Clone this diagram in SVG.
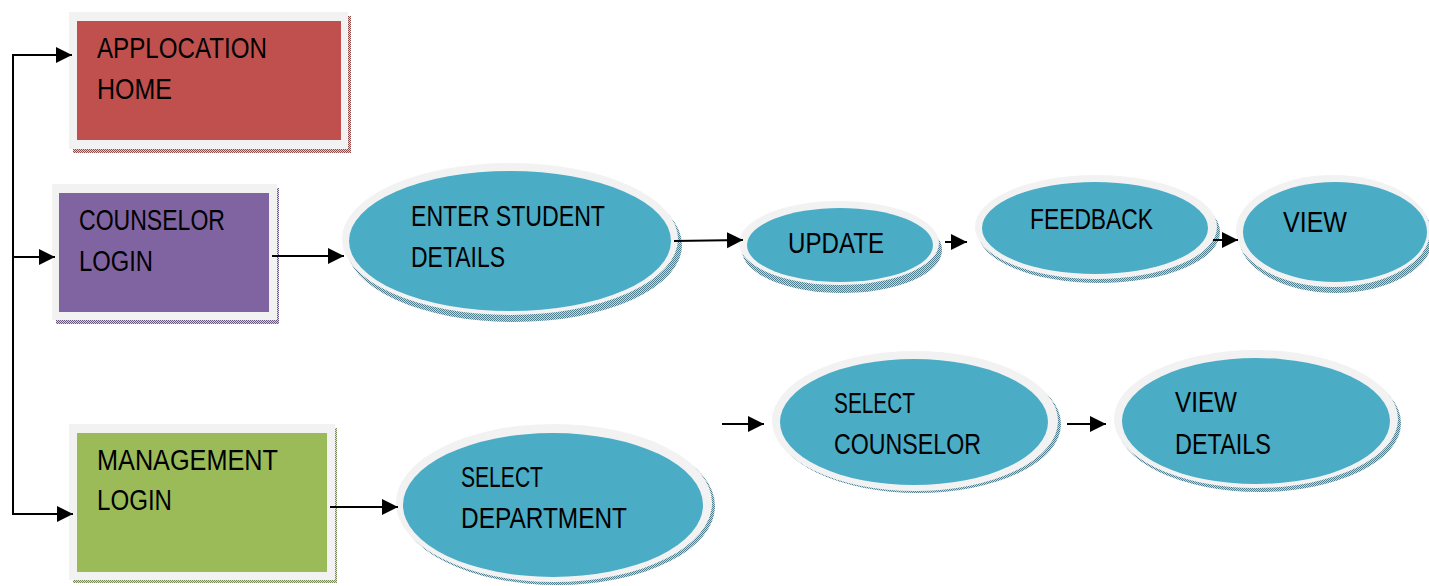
<svg xmlns="http://www.w3.org/2000/svg" width="1429" height="586" viewBox="0 0 1429 586">
<defs>
<pattern id="shTeal" width="2" height="2" patternUnits="userSpaceOnUse"><rect width="2" height="2" fill="#c9d7dc"/><rect width="1" height="1" fill="#4f7f8f"/><rect x="1" y="1" width="1" height="1" fill="#4f7f8f"/></pattern>
<pattern id="shRed" width="2" height="2" patternUnits="userSpaceOnUse"><rect width="2" height="2" fill="#e2cccc"/><rect width="1" height="1" fill="#8a4c4a"/><rect x="1" y="1" width="1" height="1" fill="#8a4c4a"/></pattern>
<pattern id="shPur" width="2" height="2" patternUnits="userSpaceOnUse"><rect width="2" height="2" fill="#d6d0dd"/><rect width="1" height="1" fill="#6a5a80"/><rect x="1" y="1" width="1" height="1" fill="#6a5a80"/></pattern>
<pattern id="shGrn" width="2" height="2" patternUnits="userSpaceOnUse"><rect width="2" height="2" fill="#d9dfcc"/><rect width="1" height="1" fill="#7a8a5a"/><rect x="1" y="1" width="1" height="1" fill="#7a8a5a"/></pattern>
<marker id="arr" markerUnits="userSpaceOnUse" markerWidth="17" markerHeight="17" refX="16" refY="8.5" orient="auto"><path d="M0,0.5 L16,8.5 L0,16.5 z" fill="#000"/></marker>
</defs>
<style>
.frame{fill:#f2f2f2}
.teal{fill:#4bacc6}
.lbl{font-family:"Liberation Sans",Arial,sans-serif;font-size:29px;fill:#000}
.con{fill:none;stroke:#000;stroke-width:2}
</style>
<rect width="1429" height="586" fill="#fff"/>

<g id="app-home">
<rect x="73" y="16" width="278" height="137" fill="url(#shRed)"/>
<rect class="frame" x="69" y="12" width="279" height="137"/>
<rect x="77" y="21" width="264" height="119" fill="#c0504d"/>
<text class="lbl" x="97" y="58" textLength="170" lengthAdjust="spacingAndGlyphs">APPLOCATION</text>
<text class="lbl" x="97" y="99" textLength="75" lengthAdjust="spacingAndGlyphs">HOME</text>
</g>

<g id="counselor-login">
<rect x="56" y="188" width="223" height="136" fill="url(#shPur)"/>
<rect class="frame" x="52" y="184" width="225" height="136"/>
<rect x="59" y="193" width="210" height="119" fill="#8064a2"/>
<text class="lbl" x="79" y="230" textLength="146" lengthAdjust="spacingAndGlyphs">COUNSELOR</text>
<text class="lbl" x="79" y="271" textLength="74" lengthAdjust="spacingAndGlyphs">LOGIN</text>
</g>

<g id="management-login">
<rect x="73" y="428" width="264" height="155" fill="url(#shGrn)"/>
<rect class="frame" x="69" y="424" width="266" height="156"/>
<rect x="77" y="433" width="250" height="139" fill="#9bbb59"/>
<text class="lbl" x="97" y="470" textLength="181" lengthAdjust="spacingAndGlyphs">MANAGEMENT</text>
<text class="lbl" x="97" y="510" textLength="75" lengthAdjust="spacingAndGlyphs">LOGIN</text>
</g>

<g id="enter-student-details">
<ellipse cx="514" cy="245" rx="168" ry="77" fill="url(#shTeal)"/>
<ellipse class="frame" cx="510" cy="239" rx="168" ry="76"/>
<ellipse class="teal" cx="510" cy="241" rx="161" ry="70"/>
<text class="lbl" x="411" y="226" textLength="194" lengthAdjust="spacingAndGlyphs">ENTER STUDENT</text>
<text class="lbl" x="411" y="267" textLength="94" lengthAdjust="spacingAndGlyphs">DETAILS</text>
</g>

<g id="update">
<ellipse cx="842" cy="250" rx="100" ry="43" fill="url(#shTeal)"/>
<ellipse class="frame" cx="839" cy="243" rx="100" ry="42"/>
<ellipse class="teal" cx="840" cy="245" rx="93" ry="37"/>
<text class="lbl" x="788" y="253" textLength="96" lengthAdjust="spacingAndGlyphs">UPDATE</text>
</g>

<g id="feedback">
<ellipse cx="1099" cy="232" rx="121" ry="51" fill="url(#shTeal)"/>
<ellipse class="frame" cx="1096" cy="227" rx="121" ry="52"/>
<ellipse class="teal" cx="1095" cy="228" rx="113" ry="46"/>
<text class="lbl" x="1030" y="229" textLength="123" lengthAdjust="spacingAndGlyphs">FEEDBACK</text>
</g>

<g id="view">
<ellipse cx="1336" cy="237" rx="97" ry="56" fill="url(#shTeal)"/>
<ellipse class="frame" cx="1333" cy="231" rx="97" ry="56"/>
<ellipse class="teal" cx="1335" cy="232" rx="92" ry="50"/>
<text class="lbl" x="1283" y="232" textLength="64" lengthAdjust="spacingAndGlyphs">VIEW</text>
</g>

<g id="select-department">
<ellipse cx="557" cy="506" rx="158" ry="79" fill="url(#shTeal)"/>
<ellipse class="frame" cx="554" cy="503" rx="158" ry="79"/>
<ellipse class="teal" cx="553" cy="505" rx="150" ry="72"/>
<text class="lbl" x="461" y="487" textLength="82" lengthAdjust="spacingAndGlyphs">SELECT</text>
<text class="lbl" x="461" y="528" textLength="166" lengthAdjust="spacingAndGlyphs">DEPARTMENT</text>
</g>

<g id="select-counselor">
<ellipse cx="918" cy="424" rx="143" ry="69" fill="url(#shTeal)"/>
<ellipse class="frame" cx="915" cy="421" rx="143" ry="70"/>
<ellipse class="teal" cx="914" cy="422" rx="134" ry="63"/>
<text class="lbl" x="834" y="413" textLength="81" lengthAdjust="spacingAndGlyphs">SELECT</text>
<text class="lbl" x="834" y="454" textLength="147" lengthAdjust="spacingAndGlyphs">COUNSELOR</text>
</g>

<g id="view-details">
<ellipse cx="1259" cy="423" rx="142" ry="69" fill="url(#shTeal)"/>
<ellipse class="frame" cx="1256" cy="419" rx="142" ry="69"/>
<ellipse class="teal" cx="1256" cy="421" rx="134" ry="63"/>
<text class="lbl" x="1175" y="412" textLength="62" lengthAdjust="spacingAndGlyphs">VIEW</text>
<text class="lbl" x="1175" y="454" textLength="96" lengthAdjust="spacingAndGlyphs">DETAILS</text>
</g>

<g id="connectors">
<path class="con" d="M13,514 V55 H72" marker-end="url(#arr)"/>
<path class="con" d="M12,514 H73" marker-end="url(#arr)"/>
<path class="con" d="M13,257 H55" marker-end="url(#arr)"/>
<path class="con" d="M272,256 H344" marker-end="url(#arr)"/>
<path class="con" d="M674,241 L743,240" marker-end="url(#arr)"/>
<path class="con" d="M945,242 H967" marker-end="url(#arr)"/>
<path class="con" d="M1213,240 H1238" marker-end="url(#arr)"/>
<path class="con" d="M330,507 H398" marker-end="url(#arr)"/>
<path class="con" d="M722,424 H764" marker-end="url(#arr)"/>
<path class="con" d="M1067,424 H1106" marker-end="url(#arr)"/>
</g>
</svg>
